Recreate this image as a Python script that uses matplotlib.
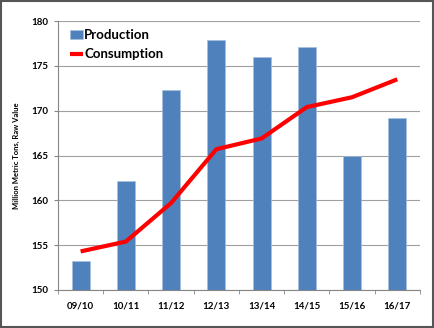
import matplotlib
matplotlib.use("Agg")
import matplotlib.pyplot as plt
import numpy as np

# data
seasons = ["09/10", "10/11", "11/12", "12/13", "13/14", "14/15", "15/16", "16/17"]
production = [153.2, 162.2, 172.3, 177.9, 176.0, 177.1, 164.9, 169.2]
consumption = [154.3, 155.4, 159.7, 165.7, 166.9, 170.4, 171.5, 173.5]

plt.rcParams['font.family'] = ['Lato', 'DejaVu Sans']
plt.rcParams['font.weight'] = 'bold'
plt.rcParams['axes.labelweight'] = 'bold'

fig = plt.figure(figsize=(4.35, 3.28), dpi=100)
ax = fig.add_axes([0.1333, 0.1159, 0.832, 0.820])

x = np.arange(len(seasons))
bars = ax.bar(x, production, width=0.4, color='#4F81BD', edgecolor='#A7BFDE',
              linewidth=0.5, label='Production', zorder=2)
line, = ax.plot(x, consumption, color='#FF0000', linewidth=3, label='Consumption',
                solid_capstyle='butt', zorder=3)

ax.set_ylim(150, 180)
ax.set_xlim(-0.5, len(seasons) - 0.5)
ax.set_yticks(np.arange(150, 181, 5))
ax.set_xticks(x)
ax.set_xticklabels(seasons)
ax.set_xticks(np.arange(-0.5, len(seasons), 1), minor=True)
ax.tick_params(axis='x', which='major', length=0, labelsize=7, pad=8)
ax.tick_params(axis='x', which='minor', length=3, color='#868686', direction='out')
ax.tick_params(axis='y', length=3, color='#868686', labelsize=7, pad=4)
ax.grid(axis='y', color='#A0A0A0', linewidth=0.8, zorder=0)
ax.set_axisbelow(True)

for s in ['top', 'right']:
    ax.spines[s].set_visible(False)
for s in ['left', 'bottom']:
    ax.spines[s].set_color('#868686')
    ax.spines[s].set_linewidth(0.8)

ax.set_ylabel("Million Metric Tons, Raw Value", fontsize=5.5, labelpad=8)

ax.legend([bars, line], ['Production', 'Consumption'], loc='upper left',
          frameon=False, fontsize=9.5, handlelength=1.0, handletextpad=0.1,
          labelspacing=0.55, borderaxespad=0.2, bbox_to_anchor=(0.01, 1.0))

# dark frame round the whole picture
fig.patches.append(plt.Rectangle((0.002, 0.003), 0.994, 0.994, transform=fig.transFigure,
                                 fill=False, edgecolor='#555555', linewidth=1.5))

fig.savefig("out.png", dpi=100)
